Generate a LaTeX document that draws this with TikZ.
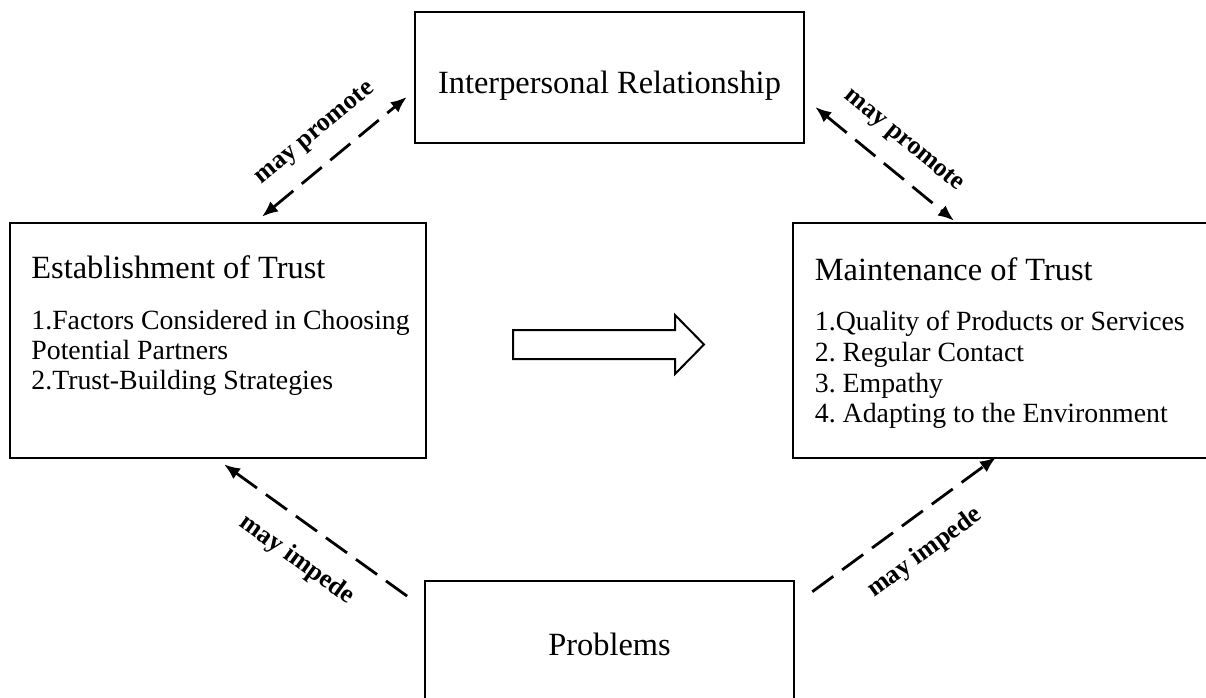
\documentclass[tikz,border=0pt]{standalone}
\usepackage{fontspec}
\setmainfont{Liberation Serif}
\usetikzlibrary{arrows.meta,calc}
\frenchspacing

\begin{document}
\begin{tikzpicture}[x=0.5pt, y=-0.5pt,
    box/.style={draw, line width=1.3pt, rectangle, inner sep=0pt},
    head/.style={font=\fontsize{16.2}{19}\selectfont},
    item/.style={font=\fontsize{13.9}{16}\selectfont, anchor=base west, inner sep=0pt},
    dasharrow/.style={line width=1.4pt, dash pattern=on 13pt off 5.5pt, >={Latex[length=8pt,width=6.5pt]}},
    lbl/.style={font=\bfseries\fontsize{13}{15}\selectfont, sloped, inner sep=0pt}]
  \useasboundingbox (0,0) rectangle (1206,697);
  % boxes
  \node[box, head, minimum width=194.5pt, minimum height=65.5pt, text height=15.5pt, text depth=0pt] (ip) at (609.5,77.5) {Interpersonal Relationship};
  \node[box, minimum width=208pt, minimum height=117.5pt] (et) at (218,340.5) {};
  \node[box, minimum width=208pt, minimum height=117.5pt] (mt) at (1001,340.5) {};
  \node[box, head, minimum width=184.5pt, minimum height=63pt] (pr) at (609.5,644) {Problems};
  % establishment
  \node[head, anchor=base west, inner sep=0pt] (et-title) at (31,278) {Establishment of Trust};
  \foreach \t [count=\i] in {1.Factors Considered in Choosing, Potential Partners, 2.Trust-Building Strategies}
    \node[item] (et-\i) at (31,300+29.7*\i) {\t};
  % maintenance
  \node[head, anchor=base west, inner sep=0pt] (mt-title) at (814.5,280) {Maintenance of Trust};
  \foreach \t [count=\i] in {1.Quality of Products or Services, 2. Regular Contact, 3. Empathy, 4. Adapting to the Environment}
    \node[item] (mt-\i) at (814.5,300+30.7*\i) {\t};
  % block arrow
  \draw[line width=1pt] (513,330) -- (675,330) -- (675,315) -- (704,344.5) -- (675,374) -- (675,359) -- (513,359) -- cycle;
  % dashed connectors
  \draw[dasharrow, <->] ($(et.north)+(44,-5)$) -- node[lbl, above=9pt] (prom-l) {may promote} ($(ip.west)+(-7,19.5)$);
  \draw[dasharrow, <->] ($(ip.east)+(10,29.5)$) -- node[lbl, above=9pt] (prom-r) {may promote} ($(mt.north)+(-47,-1)$);
  \draw[dasharrow, <-] ($(et.south)+(6,5)$) -- node[lbl, below=11pt] (imp-l) {may impede} ($(pr.north west)+(-13,19)$);
  \draw[dasharrow, ->] ($(pr.north east)+(17,12)$) -- node[lbl, below=11pt] (imp-r) {may impede} ($(mt.south)+(-5,-2)$);
\end{tikzpicture}
\end{document}
